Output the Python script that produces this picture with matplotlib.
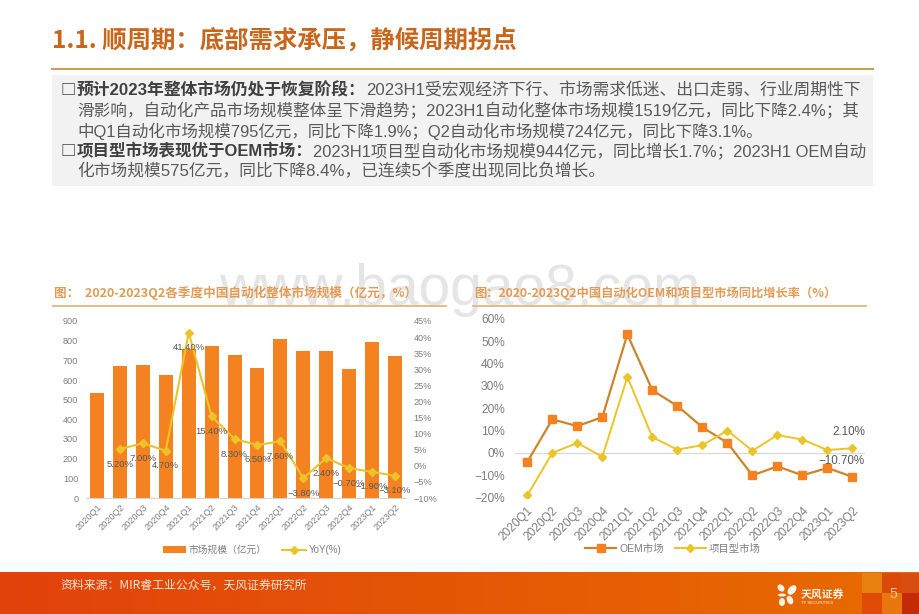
import numpy as np
import matplotlib
matplotlib.use("Agg")
import matplotlib.pyplot as plt
from matplotlib.patches import Rectangle, Ellipse
from matplotlib.ticker import FuncFormatter, MultipleLocator

CJK = ['Noto Sans CJK SC', 'DejaVu Sans']
LAT = ['Liberation Sans', 'Noto Sans CJK SC', 'DejaVu Sans']
plt.rcParams['font.family'] = LAT
plt.rcParams['axes.unicode_minus'] = True

quarters = ['2020Q1','2020Q2','2020Q3','2020Q4','2021Q1','2021Q2','2021Q3','2021Q4',
            '2022Q1','2022Q2','2022Q3','2022Q4','2023Q1','2023Q2']
market_size = [535, 672, 675, 623, 760, 775, 728, 663, 808, 747, 747, 657, 795, 724]
yoy = [np.nan, 5.2, 7.0, 4.7, 41.4, 15.4, 8.3, 6.5, 7.6, -3.8, 2.4, -0.7, -1.9, -3.1]
yoy_labels = [None,'5.20%','7.00%','4.70%','41.40%','15.40%','8.30%','6.50%','7.60%',
              '−3.80%','2.40%','−0.70%','−1.90%','−3.10%']
oem = [-4, 15, 12, 16, 53, 28, 21, 11.5, 4.5, -10, -6, -10, -6.7, -10.7]
project = [-19, 0, 4.5, -1.7, 34, 7, 1.5, 3.5, 10, 1, 8, 6, 1.3, 2.1]

page_title = '1.1. 顺周期：底部需求承压，静候周期拐点'
body_lines = [
    ('预计2023年整体市场仍处于恢复阶段：', '2023H1受宏观经济下行、市场需求低迷、出口走弱、行业周期性下'),
    ('', '滑影响，自动化产品市场规模整体呈下滑趋势；2023H1自动化整体市场规模1519亿元，同比下降2.4%；其'),
    ('', '中Q1自动化市场规模795亿元，同比下降1.9%；Q2自动化市场规模724亿元，同比下降3.1%。'),
    ('项目型市场表现优于OEM市场：', '2023H1项目型自动化市场规模944亿元，同比增长1.7%；2023H1 OEM自动'),
    ('', '化市场规模575亿元，同比下降8.4%，已连续5个季度出现同比负增长。'),
]
left_title = '图：  2020-2023Q2各季度中国自动化整体市场规模（亿元，%）'
right_title = '图：2020-2023Q2中国自动化OEM和项目型市场同比增长率（%）'
source = '资料来源：MIR睿工业公众号，天风证券研究所'

W, H = 920, 614
ORANGE = '#F58220'
DARK_OR = '#C9862B'
YELLOW = '#EBC42A'
GREY = '#7F7F7F'
fig = plt.figure(figsize=(W/100, H/100), dpi=100, facecolor='white')

def px_axes(l, t, r, b, **kw):
    return fig.add_axes([l/W, 1-b/H, (r-l)/W, (b-t)/H], **kw)

bg = fig.add_axes([0, 0, 1, 1], zorder=0)
bg.set_xlim(0, W); bg.set_ylim(H, 0); bg.axis('off')
bg.add_patch(Rectangle((0, 563), W, 9, color='#F6FDFE', lw=0))
c0 = np.array([0xE2, 0x42, 0x0C]) / 255
c1 = np.array([0xE8, 0x6C, 0x00]) / 255
g = np.linspace(0, 1, 256)[None, :, None]
bg.imshow(c0 + (c1 - c0) * g, extent=(0, W, 614, 572), aspect='auto', zorder=1)
bg.set_xlim(0, W); bg.set_ylim(H, 0)
for (bx, by, bw, bh, col) in [(862, 573, 20, 20, '#E8820F'), (862, 593, 20, 21, '#E04C08'),
                              (882, 573, 20, 20, '#DC4A0A'), (882, 593, 20, 21, '#E8780C'),
                              (902, 573, 18, 20, '#D84E10'), (902, 593, 18, 21, '#C42A08')]:
    bg.add_patch(Rectangle((bx, by), bw, bh, color=col, lw=0, zorder=2))
for (ex, ey, ew, eh, a) in [(781, 588, 6, 8, -40), (792, 590, 7, 11, 40), (782, 595, 8, 3, 0),
                            (782, 602, 6, 8, 0), (790, 600, 6, 9, -25)]:
    bg.add_patch(Ellipse((ex, ey), ew, eh, angle=a, color='#FDF3E6', lw=0, zorder=3))
bg.text(801, 594, '天风证券', color='#FDF3E6', fontsize=7.8, weight='bold', family=CJK, va='center', zorder=3)
bg.text(801, 602.5, 'TF SECURITIES', color='#FDF3E6', fontsize=3.1, family=LAT, va='center', zorder=3)
bg.text(893, 594, '5', color='#F5C8A0', fontsize=10, ha='center', va='center', zorder=3)
bg.text(60, 585, source, color='#FBE5D0', fontsize=8.55, family=CJK, va='center', zorder=3)

# watermark
bg.text(460, 305, 'www.baogao8.com', color='#D4D4D4', alpha=0.6, fontsize=41,
        ha='center', va='baseline', family=LAT, zorder=2)

# header
bg.text(52, 41, page_title, color='#C8661C', fontsize=17.6, weight='bold', family=CJK, va='center', zorder=3)
bg.plot([52, 873], [69, 69], color='#C8A040', lw=1.4, zorder=3)
bg.add_patch(Rectangle((52, 75), 821, 111, color='#F2F2F2', lw=0, zorder=2))
rend = fig.canvas.get_renderer()
line_y = [90, 110, 131, 151, 171]
line_size = [12.1, 11.95, 11.85, 11.9, 12.05]
for (b, r), y, fs in zip(body_lines, line_y, line_size):
    px = 77
    if b:
        bg.text(60.5, y, '□', color='#404040', fontsize=11, weight='bold', family=CJK, va='center', zorder=3)
        t = bg.text(px, y, b, color='#404040', fontsize=fs, weight='bold', family=LAT, va='center', zorder=3)
        px = t.get_window_extent(rend).x1
    bg.text(px, y, r, color='#595959', fontsize=fs, family=LAT, va='center', zorder=3)

# chart headings
bg.text(54, 293, left_title, color='#E39B55', fontsize=9.05, weight='bold', family=CJK, va='center', zorder=3)
bg.plot([53, 446], [306, 306], color='#E3B57A', lw=1.3, zorder=3)
bg.text(474, 293, right_title, color='#E39B55', fontsize=8.8, weight='bold', family=CJK, va='center', zorder=3)
bg.plot([473, 866], [306, 306], color='#E3B57A', lw=1.3, zorder=3)

# left chart
x = np.arange(len(quarters))
ax = px_axes(85.5, 321, 406.5, 498, zorder=2)
ax.patch.set_alpha(0)
bars = ax.bar(x, market_size, width=0.61, color=ORANGE, label='市场规模（亿元）')
ax.set_xlim(-0.5, len(x) - 0.5)
ax.set_ylim(0, 900)
ax.yaxis.set_major_locator(MultipleLocator(100))
ax.set_xticks(x, quarters, rotation=45, ha='right', rotation_mode='anchor')
ax.tick_params(axis='both', length=0, labelsize=6.6, labelcolor=GREY, pad=3)
ax.tick_params(axis='y', pad=5.2)
for s in ['top', 'left', 'right']:
    ax.spines[s].set_visible(False)
ax.spines['bottom'].set_color('#E0D0CC')
ax2 = ax.twinx()
ax2.patch.set_alpha(0)
line, = ax2.plot(x, yoy, color=YELLOW, lw=1.5, marker='D', ms=4.2, label='YoY(%)')
ax2.set_ylim(-10, 45)
ax2.yaxis.set_major_locator(MultipleLocator(5))
ax2.yaxis.set_major_formatter(FuncFormatter(lambda v, _: f'{v:.0f}%'.replace('-', '−')))
ax2.tick_params(axis='y', length=0, labelsize=6.6, labelcolor=GREY, pad=5)
for s in ax2.spines.values():
    s.set_visible(False)
for xi, v, lab in zip(x, yoy, yoy_labels):
    if lab:
        ax2.annotate(lab, (xi, v), xytext=(0, -10.8), textcoords='offset points',
                     ha='center', va='center', fontsize=6.8, color='#595959')
fig.legend([bars, line], ['市场规模（亿元）', 'YoY(%)'], loc='center',
           bbox_to_anchor=(252/W, 1-550/H), ncol=2, frameon=False,
           labelcolor=GREY, handlelength=2.4, columnspacing=1.6, handletextpad=0.3,
           prop={'family': LAT, 'size': 7})

# right chart
ar = px_axes(514.8, 318.7, 865, 497.7, zorder=2)
ar.patch.set_alpha(0)
l1, = ar.plot(x, oem, color=DARK_OR, lw=1.6, marker='s', ms=6.2, mfc=ORANGE, mec=ORANGE, label='OEM市场')
l2, = ar.plot(x, project, color=YELLOW, lw=1.4, marker='D', ms=4.2, label='项目型市场')
ar.set_xlim(-0.5, len(x) - 0.5)
ar.set_ylim(-20, 60)
ar.yaxis.set_major_locator(MultipleLocator(10))
ar.yaxis.set_major_formatter(FuncFormatter(lambda v, _: f'{v:.0f}%'.replace('-', '−')))
ar.set_xticks(x, quarters, rotation=45, ha='right', rotation_mode='anchor')
ar.tick_params(axis='both', length=0, labelsize=8.6, labelcolor=GREY)
ar.tick_params(axis='x', pad=5)
ar.tick_params(axis='y', pad=7.2)
for s in ['top', 'left', 'right', 'bottom']:
    ar.spines[s].set_visible(False)
ar.axhline(0, color='#D9D9D9', lw=0.9, zorder=0)
ar.annotate('2.10%', (13, project[-1]), xytext=(-3, 11.5), textcoords='offset points',
            ha='center', va='center', fontsize=8.4, color='#595959')
ar.annotate('−10.70%', (13, oem[-1]), xytext=(-8, 11.5), textcoords='offset points',
            ha='center', va='center', fontsize=8.4, color='#595959')
fig.legend([l1, l2], ['OEM市场', '项目型市场'], loc='center',
           bbox_to_anchor=(673/W, 1-549/H), ncol=2, frameon=False,
           labelcolor=GREY, handlelength=3, columnspacing=1.0, handletextpad=0.3,
           prop={'family': LAT, 'size': 7.5})

fig.savefig('out.png', dpi=100)
